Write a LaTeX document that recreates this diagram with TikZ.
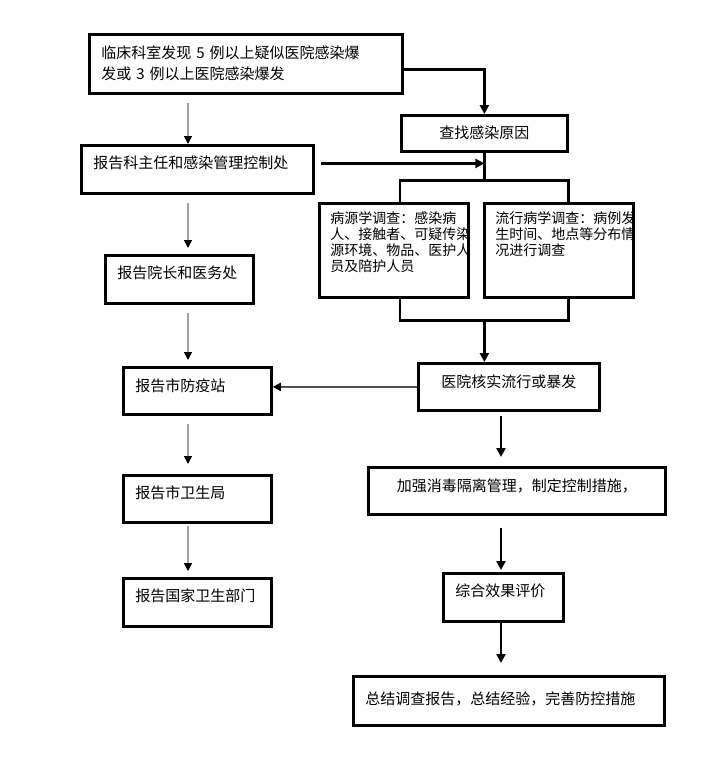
\documentclass[tikz,border=0pt]{standalone}
\usepackage{fontspec}
\newfontfamily\zh{Noto Sans CJK SC}
\usepackage{tikz}
\usetikzlibrary{positioning,arrows.meta}
\definecolor{xianhui}{HTML}{A0A0A0}
\definecolor{shenhui}{HTML}{505050}
\tikzset{
  kuang/.style={rectangle, draw=black, line width=2.8pt, anchor=north west,
    inner xsep=12pt, inner ysep=0pt, align=left, font=\zh\fontsize{15}{21}\selectfont},
  kuangx/.style={kuang, inner xsep=11pt, font=\zh\fontsize{14}{16}\selectfont},
  cu/.style={line width=2.8pt, draw=black},
  cujt/.style={cu, -{Triangle[length=9pt,width=9pt]}},
  huijt/.style={line width=1.6pt, draw=xianhui, -{Triangle[length=8pt,width=8pt,color=black]},
    shorten <=8pt, shorten >=6pt},
  shenjt/.style={line width=2pt, draw=shenhui, -{Triangle[length=8pt,width=8pt,color=black]}},
}

\begin{document}
\begin{tikzpicture}[x=1pt, y=-1pt]
  \useasboundingbox (0,0) rectangle (721,761);
  % left column
  \node[kuang, text width=289pt, text height=24pt, text depth=35pt] (faxian) at (88,33)
    {临床科室发现 5 例以上疑似医院感染爆\\发或 3 例以上医院感染爆发};
  \node[kuang, text width=208pt, text height=23pt, text depth=25pt] (kezhuren) at (80,144) {报告科主任和感染管理控制处};
  \node[kuang, text width=124pt, text height=23pt, text depth=25pt] (yuanzhang) at (104,254) {报告院长和医务处};
  \node[kuang, text width=124pt, text height=24pt, text depth=23pt] (fangyi) at (122,366) {报告市防疫站};
  \node[kuang, text width=124pt, text height=23pt, text depth=24pt] (weisheng) at (122,474) {报告市卫生局};
  \node[kuang, text width=124pt, text height=23pt, text depth=25pt] (guojia) at (122,577) {报告国家卫生部门};
  % right column
  \node[kuang, text width=142pt, text height=23pt, text depth=13pt, align=center] (chazhao) at (400,114) {查找感染原因};
  \node[kuangx, text width=127pt, text height=20pt, text depth=74pt] (bingyuan) at (318,202)
    {病源学调查：感染病\\人、接触者、可疑传染\\源环境、物品、医护人\\员及陪护人员};
  \node[kuangx, text width=127pt, text height=20pt, text depth=74pt] (liuxing) at (483,202)
    {流行病学调查：病例发\\生时间、地点等分布情\\况进行调查};
  \node[kuang, text width=157pt, text height=24pt, text depth=23pt, align=center] (heshi) at (417,362) {医院核实流行或暴发};
  \node[kuang, text width=273pt, text height=24pt, text depth=23pt, align=center] (jiaqiang) at (367,466) {加强消毒隔离管理，制定控制措施，};
  \node[kuang, text width=96pt, text height=23pt, text depth=25pt] (pingjia) at (442,572) {综合效果评价};
  \node[kuang, text width=287pt, text height=28pt, text depth=21pt] (zongjie) at (352,675) {总结调查报告，总结经验，完善防控措施};

  \coordinate (zuo) at (188,0);
  \coordinate (you) at (501,0);
  \path (chazhao.south) ++(0,28) coordinate (fen);
  \path (chazhao.south |- bingyuan.south) ++(0,22) coordinate (he);

  % reporting chain
  \draw[huijt, shorten >=0pt] (faxian.south -| zuo) -- (kezhuren.north -| zuo);
  \draw[huijt] (kezhuren.south -| zuo) -- (yuanzhang.north -| zuo);
  \draw[huijt] (yuanzhang.south -| zuo) -- (fangyi.north -| zuo);
  \draw[huijt, shorten >=10pt] (fangyi.south -| zuo) -- (weisheng.north -| zuo);
  \draw[huijt, shorten <=2pt] (weisheng.south -| zuo) -- (guojia.north -| zuo);

  % investigation
  \draw[cujt] ([yshift=-5.5pt]faxian.east) -| (chazhao.north);
  \draw[cujt] ([xshift=6pt,yshift=6pt]kezhuren.east) -- ([yshift=6pt]kezhuren.east -| chazhao.south);
  \draw[cu] (chazhao.south) -- (fen);
  \draw[cu] (bingyuan.north -| chazhao.west) |- (fen) -| (liuxing.north -| chazhao.east);
  \draw[cu] (bingyuan.south -| chazhao.west) |- (he) -| (liuxing.south -| chazhao.east);
  \draw[cujt] (he) -- (he |- heshi.north);
  \draw[shenjt] (heshi.west) -- (heshi.west -| fangyi.east);
  \draw[cujt, shorten <=4pt, shorten >=9pt] (heshi.south -| you) -- (jiaqiang.north -| you);
  \draw[cujt, shorten <=12pt, shorten >=2pt] (jiaqiang.south -| you) -- (pingjia.north -| you);
  \draw[cujt, shorten >=12pt] (pingjia.south -| you) -- (zongjie.north -| you);
\end{tikzpicture}
\end{document}
